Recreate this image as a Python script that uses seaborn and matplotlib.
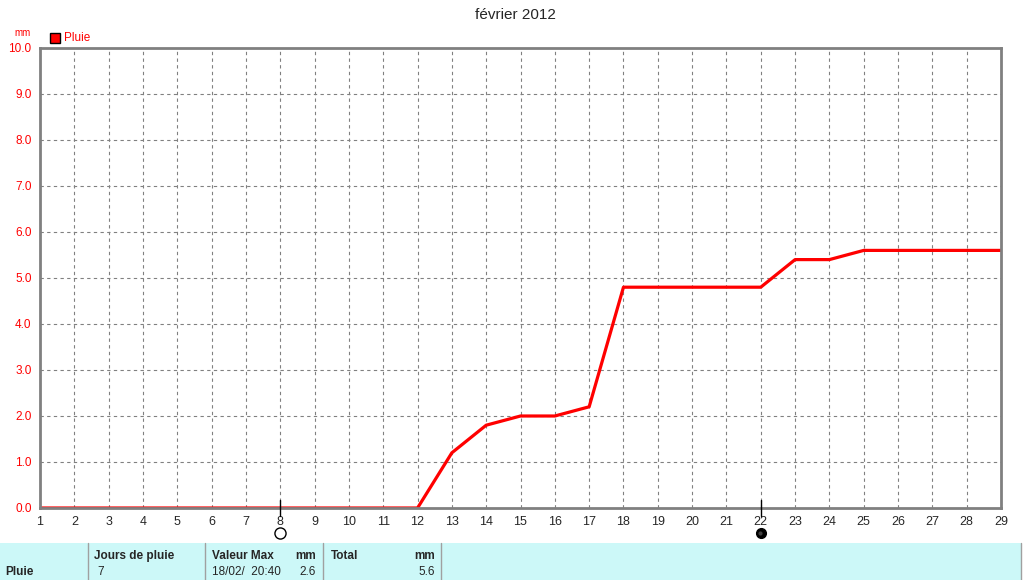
import matplotlib
matplotlib.use("Agg")
import matplotlib.pyplot as plt
import seaborn as sns
import pandas as pd

# cumulative rain, february 2012
days = list(range(1, 30))
pluie = [0, 0, 0, 0, 0, 0, 0, 0, 0, 0, 0, 0,
         1.2, 1.8, 2.0, 2.0, 2.2, 4.8, 4.8, 4.8, 4.8, 4.8,
         5.4, 5.4, 5.6, 5.6, 5.6, 5.6, 5.6]
y_ticks = [i * 1.0 for i in range(11)]
moon_days = [8, 22]

title = "février 2012"
table_head = ["Jours de pluie", "Valeur Max", "Total"]
jours = "7"
val_max_date = "18/02/  20:40"
val_max = "2.6"
total = "5.6"

sns.set_style("white")
plt.rcParams['font.family'] = ['Liberation Sans', 'DejaVu Sans']

df = pd.DataFrame({"jour": days, "pluie": pluie})

W, H = 1024, 580
fig = plt.figure(figsize=(W / 100, H / 100), dpi=100)

def px(x0, y0, x1, y1):
    return [x0 / W, 1 - y1 / H, (x1 - x0) / W, (y1 - y0) / H]

ax = fig.add_axes(px(40, 48, 1001, 508))
sns.lineplot(data=df, x="jour", y="pluie", color="#ff0000", linewidth=2.3, ax=ax)
ax.set_xlim(1, 29)
ax.set_ylim(0, 10)
ax.set_xticks(days)
ax.set_xticklabels([str(d) for d in days], fontsize=9)
ax.set_yticks(y_ticks)
ax.set_yticklabels([f"{v:.1f}" for v in y_ticks], fontsize=8.5, color="#ff0000")
ax.set_xlabel("")
ax.set_ylabel("")
ax.grid(True, color="#808080", linestyle=(0, (3, 3)), linewidth=0.8)
for s in ax.spines.values():
    s.set_color("#808080")
    s.set_linewidth(2)
ax.tick_params(axis="both", length=3, width=1, color="#808080", pad=3)
ax.tick_params(axis="x", direction="out")

# moon phase markers
for d in moon_days:
    ax.plot([d, d], [-0.18, 0.18], color="black", lw=1, clip_on=False, zorder=5)
ax.plot(moon_days[0], -0.55, marker="o", ms=8, mfc="white", mec="black", mew=1,
        clip_on=False)
ax.plot(moon_days[1], -0.55, marker="o", ms=7, mfc="black", mec="black", mew=1,
        clip_on=False)
ax.plot(moon_days[1] - 0.03, -0.55, marker="o", ms=3, mfc="#404040", mec="none",
        clip_on=False)

fig.text(515 / W, 1 - 15 / H, title, ha="center", va="center", fontsize=11)
fig.text(14 / W, 1 - 33 / H, "mm", color="#ff0000", fontsize=7, va="center")
fig.patches.append(plt.Rectangle((50 / W, 1 - 43 / H), 10 / W, 10 / H,
                                 transform=fig.transFigure, facecolor="#ff0000",
                                 edgecolor="black", lw=1))
fig.text(64 / W, 1 - 38 / H, "Pluie", color="#ff0000", fontsize=8.5, va="center")

# summary table at the bottom
fig.patches.append(plt.Rectangle((0, 0), 1022 / W, 37 / H, transform=fig.transFigure,
                                 facecolor="#ccf8f8", edgecolor="none"))
for xs in [88, 205, 323, 441, 1021]:
    fig.add_artist(plt.Line2D([xs / W, xs / W], [0, 37 / H], color="#a0a0a0", lw=1))
bold = dict(fontsize=8.5, fontweight="bold", va="center")
norm = dict(fontsize=8.5, va="center")
r1, r2 = 1 - 556 / H, 1 - 572 / H
fig.text(5 / W, r2, "Pluie", **bold)
fig.text(94 / W, r1, table_head[0], **bold)
fig.text(97 / W, r2, jours, **norm)
fig.text(212 / W, r1, table_head[1], **bold)
fig.text(316 / W, r1, "mm", ha="right", **bold)
fig.text(212 / W, r2, val_max_date, **norm)
fig.text(316 / W, r2, val_max, ha="right", **norm)
fig.text(331 / W, r1, table_head[2], **bold)
fig.text(435 / W, r1, "mm", ha="right", **bold)
fig.text(435 / W, r2, total, ha="right", **norm)

fig.savefig("out.png", dpi=100)
